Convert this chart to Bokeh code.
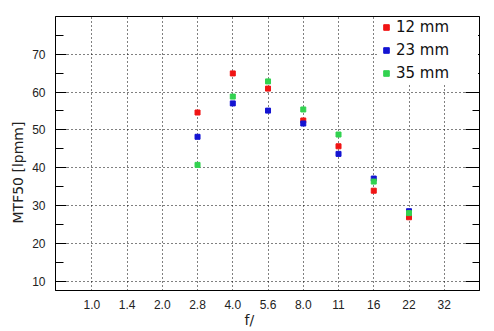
from bokeh.plotting import figure
from bokeh.models import (FixedTicker, SingleIntervalTicker, LinearAxis, Title,
                          Range1d, CustomJSTickFormatter)
from bokeh.embed import file_html
from bokeh.resources import INLINE

# ---- data ----
categories = ["1.0", "1.4", "2.0", "2.8", "4.0", "5.6", "8.0", "11", "16", "22", "32"]
fstops = ["2.8", "4.0", "5.6", "8.0", "11", "16", "22"]
mtf_12mm = [54.6, 64.9, 60.9, 52.5, 45.7, 34.0, 27.0]
mtf_23mm = [48.2, 57.0, 55.1, 51.7, 43.7, 37.2, 28.6]
mtf_35mm = [40.8, 58.8, 62.8, 55.4, 48.8, 36.4, 28.1]
series_names = ["12 mm", "23 mm", "35 mm"]
series_colors = ["#f01414", "#1414d2", "#32d250"]

xs = [categories.index(f) for f in fstops]

p = figure(width=494, height=331, output_backend="svg", toolbar_location=None,
           x_range=Range1d(-1.03, 11.0), y_range=Range1d(7.7, 79.9),
           min_border_left=55, min_border_right=15, min_border_top=16,
           min_border_bottom=41)
p.background_fill_color = "white"
p.border_fill_color = "white"
p.outline_line_color = "black"
p.outline_line_width = 1

# axes
tick_font = "Liberation Sans"
xax = p.xaxis[0]
xax.ticker = FixedTicker(ticks=list(range(len(categories))))
xax.major_label_overrides = {i: c for i, c in enumerate(categories)}
xax.major_tick_in = 0
xax.major_tick_out = 0
xax.minor_tick_in = 0
xax.minor_tick_out = 0
xax.axis_line_color = "black"
xax.major_label_text_font = tick_font
xax.major_label_text_font_size = "12px"
xax.major_label_text_color = "#222222"
xax.major_label_standoff = 9

yax = p.yaxis[0]
yax.ticker = SingleIntervalTicker(interval=10, num_minor_ticks=2)
yax.major_tick_in = 11
yax.major_tick_out = 0
yax.minor_tick_in = 8
yax.minor_tick_out = 0
yax.axis_line_color = "black"
yax.major_label_text_font = tick_font
yax.major_label_text_font_size = "12px"
yax.major_label_text_color = "#222222"
yax.major_label_standoff = 10

rax = LinearAxis(ticker=SingleIntervalTicker(interval=10, num_minor_ticks=2),
                 formatter=CustomJSTickFormatter(code="return ''"))
rax.major_tick_in = 14
rax.major_tick_out = 0
rax.minor_tick_in = 7
rax.minor_tick_out = 0
rax.major_label_standoff = 0
rax.axis_line_color = "black"
rax.level = "overlay"
p.add_layout(rax, "right")

# grid
p.xgrid.ticker = FixedTicker(ticks=list(range(len(categories))))
for g in (p.xgrid[0], p.ygrid[0]):
    g.grid_line_color = "black"
    g.grid_line_dash = "1 3"
    g.grid_line_width = 1
    g.grid_line_alpha = 1.0

# data
for vals, name, col in zip([mtf_12mm, mtf_23mm, mtf_35mm], series_names, series_colors):
    p.scatter(xs, vals, marker="square", size=5, fill_color=col, line_color=col,
              legend_label=name)

lg = p.legend[0]
lg.location = "top_right"
lg.border_line_color = None
lg.background_fill_color = "white"
lg.background_fill_alpha = 1.0
lg.margin = 1
lg.padding = 3
lg.spacing = 3
lg.glyph_width = 14
lg.glyph_height = 20
lg.label_height = 20
lg.label_width = 82
lg.label_standoff = 3
lg.label_text_font = "DejaVu Sans"
lg.label_text_font_size = "15px"
lg.label_text_color = "#111111"

# axis titles
ylab = Title(text="MTF50 [lpmm]", align="left", offset=67, standoff=8,
             vertical_align="bottom", text_font="DejaVu Sans", text_font_size="14px",
             text_font_style="normal", text_color="#222222")
xlab = Title(text="f/", align="left", offset=189, standoff=0,
             vertical_align="top", text_font="DejaVu Sans", text_font_size="14px",
             text_font_style="normal", text_color="#222222")
p.add_layout(ylab, "left")
p.add_layout(xlab, "below")

open("out.html", "w").write(file_html(p, INLINE))
